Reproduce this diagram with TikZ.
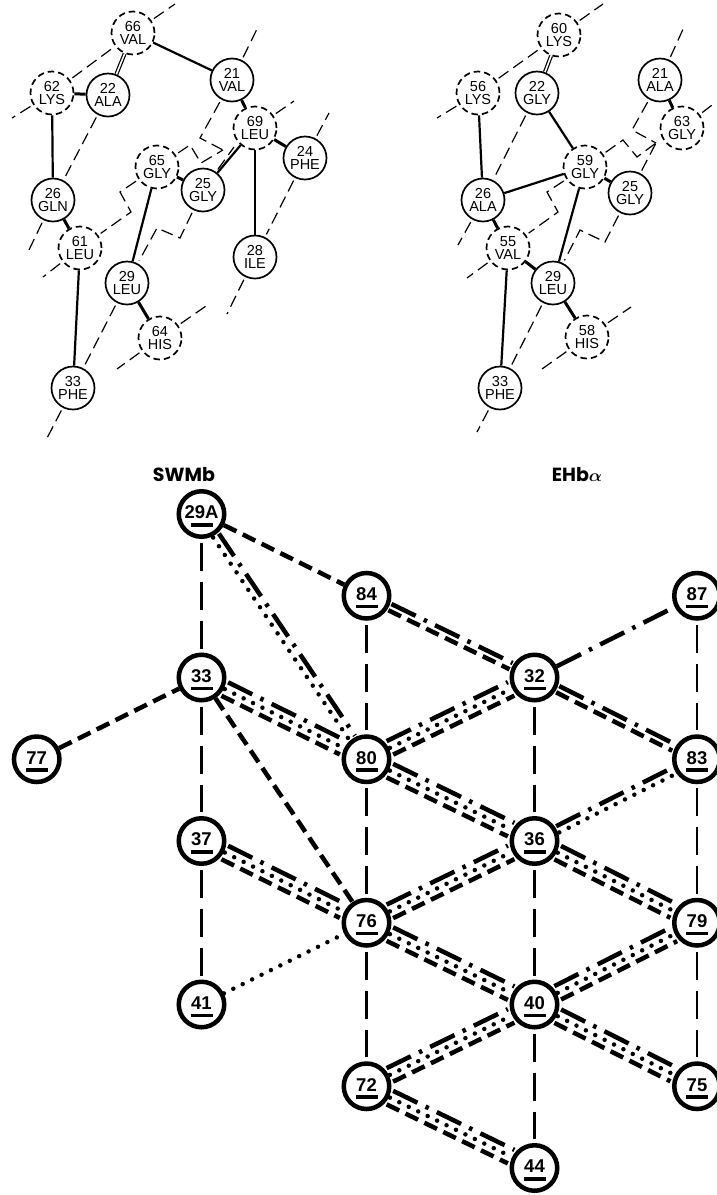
\documentclass[tikz,border=0pt]{standalone}
\usepackage{fontspec}
\setmainfont{Liberation Sans}
\newfontfamily\geofont{Poppins}
\usetikzlibrary{calc}

\tikzset{
  res/.style={circle, draw, line width=1.7pt, minimum size=43pt, inner sep=0pt,
    align=center, font=\fontsize{14.5}{13.6}\selectfont},
  resd/.style={res, dash pattern=on 6.5pt off 4pt},
  bond/.style={line width=2.2pt},
  link/.style={line width=3pt},
  dbl/.style={double, double distance=1.6pt, line width=1.2pt},
  helix/.style={line width=1.2pt, dash pattern=on 12pt off 6pt, shorten <=3pt},
  helixb/.style={helix, shorten >=3pt},
  site/.style={circle, draw, line width=4.5pt, minimum size=45.5pt, inner sep=0pt},
  sitelbl/.style={inner sep=0pt, font=\bfseries\fontsize{18.5}{18.5}\selectfont},
  vlink/.style={line width=2.2pt, dash pattern=on 28pt off 11pt, shorten <=4pt, shorten >=4pt},
  tdash/.style={line width=4.5pt, dash pattern=on 14pt off 7pt},
  dots/.style={line width=4.5pt, line cap=round, dash pattern=on 0pt off 10.5pt},
  ddot/.style={line width=4.5pt, dash pattern=on 27pt off 9pt on 3.5pt off 9pt},
  trim/.style={shorten <=26pt, shorten >=26pt},
  title/.style={anchor=base, inner sep=0pt, font=\geofont\bfseries\fontsize{19}{19}\selectfont},
}

% three parallel strokes: dash-dot above, dots in the middle, dashes below
\newcommand\tribundle[2]{%
  \draw[ddot,trim] ($(#1.center)!7.5pt!90:(#2.center)$) -- ($(#2.center)!7.5pt!-90:(#1.center)$);
  \draw[dots,trim] (#1.center) -- (#2.center);
  \draw[tdash,trim] ($(#1.center)!7.5pt!-90:(#2.center)$) -- ($(#2.center)!7.5pt!90:(#1.center)$);}
% two parallel strokes: dash-dot above, #1 below
\newcommand\duobundle[3]{%
  \draw[ddot,trim] ($(#2.center)!3.5pt!90:(#3.center)$) -- ($(#3.center)!3.5pt!-90:(#2.center)$);
  \draw[#1,trim] ($(#2.center)!3.5pt!-90:(#3.center)$) -- ($(#3.center)!3.5pt!90:(#2.center)$);}
% circled, underlined site number
\newcommand\sitenode[4]{%
  \node[site] (#1) at (#2,#3) {};
  \node[sitelbl] (#1l) at ([yshift=1.5pt]#1.center) {#4};
  \fill ($(#1.center)+(-11,9)$) rectangle ($(#1.center)+(11,12.5)$);}

\begin{document}
\begin{tikzpicture}[x=1pt,y=-1pt]
\fill[white] (0,0) rectangle (717,1195);
\useasboundingbox (0,0) rectangle (717,1195);

% ---------------- left helical net ----------------
\node[resd] (L66) at (133,33) {66\\VAL};
\node[resd] (L62) at (52,93) {62\\LYS};
\node[res]  (L22) at (108,95) {22\\ALA};
\node[res]  (L21) at (232,80) {21\\VAL};
\node[resd] (L69) at (255,128) {69\\LEU};
\node[res]  (L24) at (305,158) {24\\PHE};
\node[resd] (L65) at (157,167) {65\\GLY};
\node[res]  (L25) at (203,190) {25\\GLY};
\node[res]  (L26) at (53,200) {26\\GLN};
\node[resd] (L61) at (80,248) {61\\LEU};
\node[res]  (L29) at (127,283) {29\\LEU};
\node[res]  (L28) at (255,257) {28\\ILE};
\node[resd] (L64) at (160,338) {64\\HIS};
\node[res]  (L33) at (73,388) {33\\PHE};

\coordinate (lx1) at (175,4);
\coordinate (lx2) at (12,118);
\coordinate (lx3) at (28,252);
\coordinate (lx4) at (258,27);
\coordinate (lx5) at (43,277);
\coordinate (lx6) at (45,442);
\coordinate (lx7) at (206,306);
\coordinate (lx8) at (117,369);
\coordinate (lx9) at (227,314);
\coordinate (lx10) at (329,113);
\coordinate (lx11) at (294,101);
\coordinate (lc1) at (200,138);
\coordinate (lc2) at (190,145);
\coordinate (lc3) at (201,163);
\coordinate (lc4) at (120,192);
\coordinate (lc5) at (131,212);
\coordinate (lc6) at (180,238);
\coordinate (lc7) at (157,228);
\coordinate (lhub) at (223,150);
\coordinate (lhub2) at (234,147);

\draw[helixb] (L62) -- (L66);
\draw[helix] (L66) -- (lx1);
\draw[helix] (L62) -- (lx2);
\draw[helixb] (L22) -- (L26);
\draw[helix] (L26) -- (lx3);
\draw[helix] (L21) -- (lx4);
\draw[helix] (L21) -- (lc1) -- (lhub);
\draw[helix] (L65) -- (lc2) -- (lc3) -- (lhub);
\draw[helix] (L25) -- (lhub2);
\draw[helixb] (L65) -- (lc4) -- (lc5) -- (L61);
\draw[helixb] (L25) -- (lc6) -- (lc7) -- (L29);
\draw[helix] (L61) -- (lx5);
\draw[helixb] (L29) -- (L33);
\draw[helix] (L33) -- (lx6);
\draw[helix] (L64) -- (lx7);
\draw[helix] (L64) -- (lx8);
\draw[helixb] (L24) -- (L28);
\draw[helix] (L28) -- (lx9);
\draw[helix] (L24) -- (lx10);
\draw[helix] (L69) -- (lx11);

\draw[dbl] (L66) -- (L22);
\draw[bond] (L66) -- (L21);
\draw[bond] (L62) -- (L26);
\draw[bond] (L69) -- (L25);
\draw[bond] (L69) -- (L28);
\draw[bond] (L65) -- (L29);
\draw[bond] (L61) -- (L33);
\draw[link] (L62) -- (L22);
\draw[link] (L21) -- (L69);
\draw[link] (L69) -- (L24);
\draw[link] (L65) -- (L25);
\draw[link] (L26) -- (L61);
\draw[link] (L29) -- (L64);

% ---------------- right helical net ----------------
\node[resd] (R60) at (559,35) {60\\LYS};
\node[resd] (R56) at (478,93) {56\\LYS};
\node[res]  (R22) at (537,93) {22\\GLY};
\node[res]  (R21) at (660,80) {21\\ALA};
\node[resd] (R63) at (682,128) {63\\GLY};
\node[resd] (R59) at (585,167) {59\\GLY};
\node[res]  (R25) at (630,193) {25\\GLY};
\node[res]  (R26) at (483,200) {26\\ALA};
\node[resd] (R55) at (508,248) {55\\VAL};
\node[res]  (R29) at (553,283) {29\\LEU};
\node[resd] (R58) at (587,337) {58\\HIS};
\node[res]  (R33) at (500,388) {33\\PHE};

\coordinate (rx1) at (603,4);
\coordinate (rx2) at (437,118);
\coordinate (rx3) at (458,245);
\coordinate (rx4) at (684,27);
\coordinate (rx5) at (467,278);
\coordinate (rx6) at (477,432);
\coordinate (rx7) at (631,307);
\coordinate (rx8) at (542,369);
\coordinate (rx9) at (716,102);
\coordinate (rc1) at (632,130);
\coordinate (rc2) at (623,140);
\coordinate (rc3) at (637,157);
\coordinate (rc4) at (547,192);
\coordinate (rc5) at (558,212);
\coordinate (rc6) at (605,242);
\coordinate (rc7) at (580,230);
\coordinate (rhub) at (656,143);

\draw[helixb] (R56) -- (R60);
\draw[helix] (R60) -- (rx1);
\draw[helix] (R56) -- (rx2);
\draw[helixb] (R22) -- (R26);
\draw[helix] (R26) -- (rx3);
\draw[helix] (R21) -- (rx4);
\draw[helix] (R21) -- (rc1) -- (rhub);
\draw[helix] (R59) -- (rc2) -- (rc3) -- (rhub);
\draw[helix] (R25) -- (rhub);
\draw[helixb] (R59) -- (rc4) -- (rc5) -- (R55);
\draw[helixb] (R25) -- (rc6) -- (rc7) -- (R29);
\draw[helix] (R55) -- (rx5);
\draw[helixb] (R29) -- (R33);
\draw[helix] (R33) -- (rx6);
\draw[helix] (R58) -- (rx7);
\draw[helix] (R58) -- (rx8);
\draw[helix] (R63) -- (rx9);

\draw[dbl] (R60) -- (R22);
\draw[bond] (R56) -- (R26);
\draw[bond] (R22) -- (R59);
\draw[bond] (R26) -- (R59);
\draw[bond] (R59) -- (R29);
\draw[bond] (R55) -- (R33);
\draw[link] (R59) -- (R25);
\draw[link] (R21) -- (R63);
\draw[link] (R26) -- (R55);
\draw[link] (R55) -- (R29);
\draw[link] (R29) -- (R58);

% ---------------- contact lattice ----------------
\node[title] (swmb) at (184,481.5) {SWMb};
\node[title] (ehba) at (577,481.5) {EHb{\boldmath$\alpha$}};

\sitenode{s29A}{201.5}{514}{29A}
\sitenode{s84}{366.5}{595.75}{84}
\sitenode{s87}{697}{595.75}{87}
\sitenode{s33}{201.5}{677.5}{33}
\sitenode{s32}{534.5}{677.5}{32}
\sitenode{s77}{36.7}{759.25}{77}
\sitenode{s80}{366.5}{759.25}{80}
\sitenode{s83}{697}{759.25}{83}
\sitenode{s37}{201.5}{841}{37}
\sitenode{s36}{534.5}{841}{36}
\sitenode{s76}{366.5}{922.75}{76}
\sitenode{s79}{697}{922.75}{79}
\sitenode{s41}{201.5}{1004.5}{41}
\sitenode{s40}{534.5}{1004.5}{40}
\sitenode{s72}{366.5}{1086.25}{72}
\sitenode{s75}{697}{1086.25}{75}
\sitenode{s44}{534.5}{1168}{44}

% vertical links
\draw[vlink] (s29A) -- (s33);
\draw[vlink] (s33) -- (s37);
\draw[vlink] (s37) -- (s41);
\draw[vlink] (s84) -- (s80);
\draw[vlink] (s80) -- (s76);
\draw[vlink] (s76) -- (s72);
\draw[vlink] (s32) -- (s36);
\draw[vlink] (s36) -- (s40);
\draw[vlink] (s40) -- (s44);
\draw[vlink] (s87) -- (s83);
\draw[vlink] (s83) -- (s79);
\draw[vlink] (s79) -- (s75);

% single strokes
\draw[tdash] (s29A) -- (s84);
\draw[tdash] (s77) -- (s33);
\draw[tdash] (s33) -- (s76);
\draw[dots] (s41) -- (s76);
\draw[ddot] (s32) -- (s87);

% paired strokes
\duobundle{dots}{s29A}{s80}
\duobundle{dots}{s36}{s83}
\duobundle{tdash}{s84}{s32}
\duobundle{tdash}{s32}{s83}

% triple strokes
\tribundle{s33}{s80}
\tribundle{s80}{s32}
\tribundle{s80}{s36}
\tribundle{s37}{s76}
\tribundle{s76}{s36}
\tribundle{s76}{s40}
\tribundle{s36}{s79}
\tribundle{s40}{s79}
\tribundle{s72}{s40}
\tribundle{s40}{s75}
\tribundle{s72}{s44}
\end{tikzpicture}
\end{document}
